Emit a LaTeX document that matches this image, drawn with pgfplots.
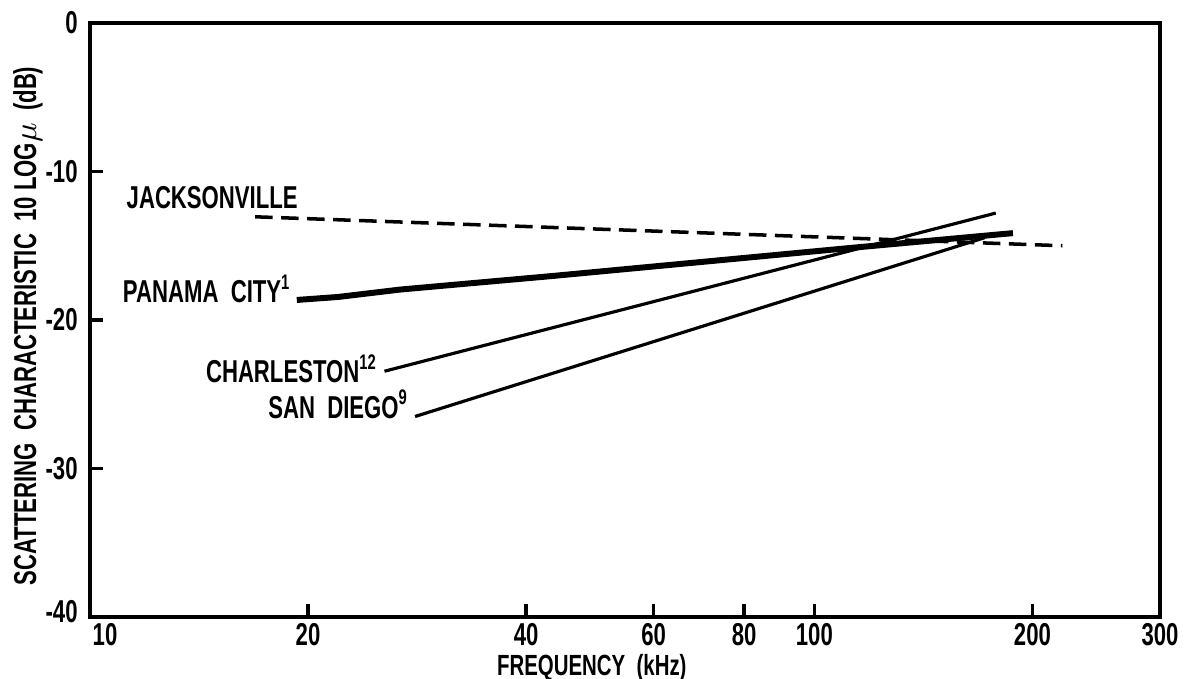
\documentclass[border=0pt]{standalone}
\usepackage{fontspec}
\setmainfont{Liberation Sans}[FakeStretch=0.7]
\usepackage{pgfplots}
\pgfplotsset{compat=1.18}
\newcommand{\lbl}{\fontsize{9}{10}\selectfont\bfseries}
\begin{document}
\begin{tikzpicture}
\begin{axis}[
    scale only axis, width=10.7cm, height=5.94cm,
    xmode=log, xmin=10, xmax=300, ymin=-40, ymax=0,
    xtick={10,20,40,60,80,100,200,300},
    xticklabels={\hspace*{0.3cm}10,20,40,60,80,100,200,300},
    xminorticks=false,
    ytick={-40,-30,-20,-10,0},
    yticklabels={\raisebox{0.12cm}{-40},-30,-20,-10,0},
    tick pos=left, tick align=inside, major tick length=0.13cm,
    axis line style={line width=1pt},
    tick style={line width=1pt, black},
    tick label style={font=\lbl},
    xticklabel shift=-0.06cm,
    label style={font=\lbl},
    xlabel={FREQUENCY\ \ (kHz)},
    ylabel={SCATTERING\ \ CHARACTERISTIC\ \ 10\ LOG$\mu$\ \ (dB)},
    xlabel style={at={(axis description cs:0.469,0)}, anchor=north, yshift=-0.25cm,
                  font=\fontsize{8.3}{9}\selectfont\bfseries},
    ylabel style={at={(axis description cs:0,0.49)}, anchor=south, yshift=0.35cm},
    clip=false,
  ]
\coordinate (O) at (rel axis cs:0,0);
\coordinate (T) at (rel axis cs:1,1);
% Jacksonville (dashed)
\addplot[black, line width=1pt, dash pattern=on 5pt off 2.4pt] coordinates {
  (16.9,-13.05) (220,-15.0)};
% Panama City (heavy)
\addplot[black, line width=1.7pt] coordinates {
  (19.3,-18.65) (22,-18.45) (26.8,-17.95) (43.2,-17.05) (112,-15.15) (188,-14.15)};
% Charleston
\addplot[black, line width=0.9pt] coordinates {
  (25.5,-23.45) (178,-12.8)};
% San Diego
\addplot[black, line width=0.9pt] coordinates {
  (28.1,-26.5) (172,-14.45)};
\node[anchor=base east, inner sep=0pt, font=\lbl] at (axis cs:19.4,-12.5) {JACKSONVILLE};
\node[anchor=base east, inner sep=0pt, font=\lbl] at (axis cs:19.0,-18.85) {PANAMA\ \ CITY\textsuperscript{1}};
\node[anchor=base east, inner sep=0pt, font=\lbl] at (axis cs:25.0,-24.24) {CHARLESTON\textsuperscript{12}};
\node[anchor=base east, inner sep=0pt, font=\lbl] at (axis cs:27.6,-26.6) {SAN\ \ DIEGO\textsuperscript{9}};
\end{axis}
\pgfresetboundingbox
\path ([shift={(-0.90cm,-0.62cm)}]O) rectangle ([shift={(0.24cm,0.23cm)}]T);
\end{tikzpicture}
\end{document}
